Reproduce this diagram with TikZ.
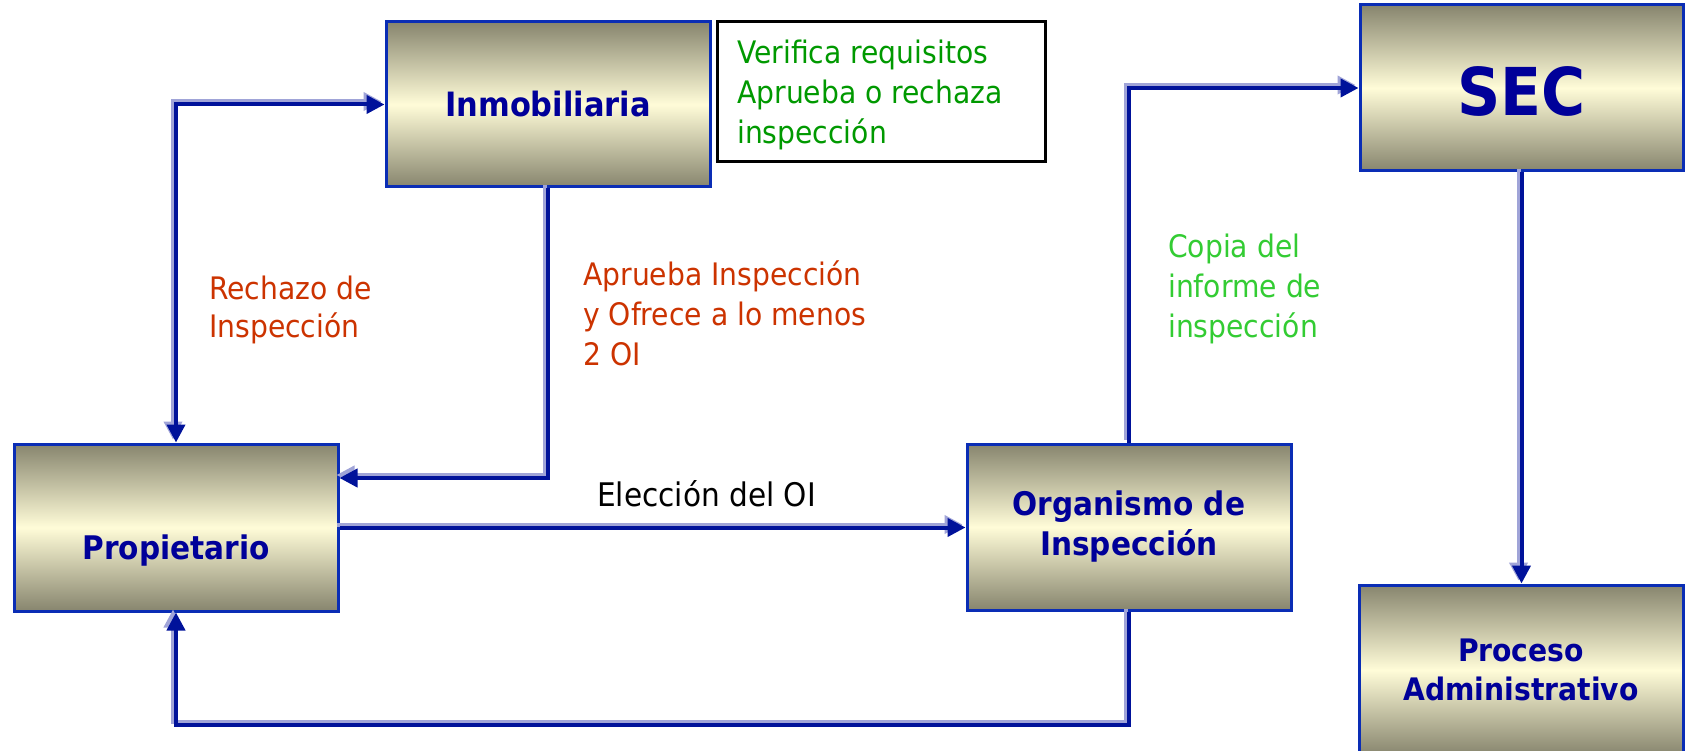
\documentclass[tikz,border=0pt]{standalone}
\usepackage{fontspec}
\setmainfont{DejaVu Sans}[FakeStretch=0.91]
\usetikzlibrary{arrows.meta}
\definecolor{navytxt}{HTML}{000099}
\definecolor{boxborder}{HTML}{0A2DB5}
\definecolor{boxdark}{HTML}{87856E}
\definecolor{boxlight}{HTML}{FFFCD8}
\definecolor{arrowdark}{HTML}{00129A}
\definecolor{arrowlight}{HTML}{A0A4D8}
\definecolor{redlbl}{HTML}{CC3300}
\definecolor{greenlbl}{HTML}{009900}
\definecolor{lightgreen}{HTML}{33CC33}
\tikzset{
  bigtri/.tip={Triangle[length=18pt,width=18pt]},
  box/.style={draw=boxborder, line width=3pt, top color=boxdark, bottom color=boxdark,
    middle color=boxlight, text=navytxt, font=\fontsize{32.5}{40}\selectfont\bfseries,
    align=center, inner sep=0pt},
  notebox/.style={draw=black, line width=3pt, fill=white, inner sep=0pt},
  lbl/.style={anchor=base west, inner sep=0pt, align=left, font=\fontsize{31}{40}\selectfont},
  conn/.style={line width=4pt, draw=arrowdark, -bigtri},
  connshadow/.style={conn, draw=arrowlight, transform canvas={shift={(-3pt,3pt)}}}
}
\begin{document}
\begin{tikzpicture}[x=1pt,y=-1pt]
\useasboundingbox[fill=white] (0,0) rectangle (1699,751);
% boxes
\node[box, minimum width=324pt, minimum height=165pt, font=\fontsize{33.5}{40}\selectfont\bfseries] (inmo) at (548,104.5) {Inmobiliaria};
\node[notebox, minimum width=328pt, minimum height=140pt] (note) at (881,92) {};
\node[box, minimum width=323pt, minimum height=166pt, font=\fontsize{66}{70}\selectfont\bfseries] (sec) at (1521.5,88) {\raisebox{-3pt}[\height][\depth]{SEC}};
\node[box, minimum width=324pt, minimum height=167pt] (prop) at (176,527.5) {\vphantom{Ip}\\\raisebox{-4pt}[\height][\depth]{Propietario}};
\node[box, minimum width=324pt, minimum height=166pt] (org) at (1129,527) {Organismo de\\Inspección};
\node[box, minimum width=324pt, minimum height=170pt, font=\fontsize{31}{39}\selectfont\bfseries] (proc) at (1521,670) {Proceso\\Administrativo};
% labels (anchor = baseline of last line)
\node[lbl, text=greenlbl] (notetxt) at (737,144) {Verifica requisitos\\Aprueba o rechaza\\inspección};
\node[lbl, text=redlbl, font=\fontsize{31}{38}\selectfont] (rech) at (209,337) {Rechazo de\\Inspección};
\node[lbl, text=redlbl] (apr) at (583,365) {Aprueba Inspección\\y Ofrece a lo menos\\2 OI};
\node[lbl, text=lightgreen] (copia) at (1168,337) {Copia del\\informe de\\inspección};
\node[lbl, text=black, font=\fontsize{32.5}{40}\selectfont] (elec) at (597,506) {Elección del OI};
% connector shadows
\draw[connshadow, bigtri-bigtri] (prop.north) |- (inmo.west);
\draw[connshadow] (inmo.south) |- ([yshift=49.5pt]prop.east);
\draw[connshadow] (prop.east) -- (prop.east -| org.west);
\draw[connshadow] (org.south) -- ++(0,113) -| (prop.south);
\draw[connshadow] (org.north) |- (sec.west);
\draw[connshadow] (sec.south) -- (sec.south |- proc.north);
% connectors
\draw[conn, bigtri-bigtri] (prop.north) |- (inmo.west);
\draw[conn] (inmo.south) |- ([yshift=49.5pt]prop.east);
\draw[conn] (prop.east) -- (prop.east -| org.west);
\draw[conn] (org.south) -- ++(0,113) -| (prop.south);
\draw[conn] (org.north) |- (sec.west);
\draw[conn] (sec.south) -- (sec.south |- proc.north);
\end{tikzpicture}
\end{document}
